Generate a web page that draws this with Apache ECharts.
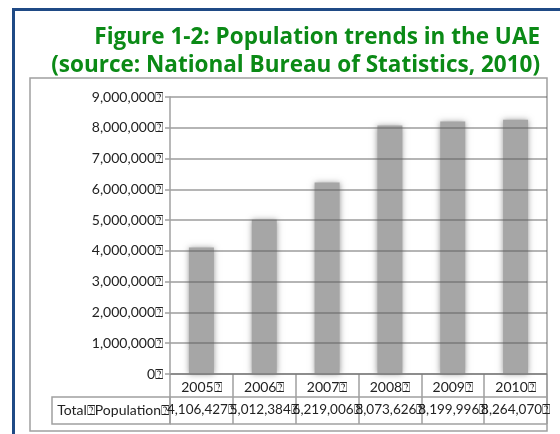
<!DOCTYPE html>
<html>
<head>
<meta charset="utf-8">
<script src="https://cdn.jsdelivr.net/npm/echarts@6/dist/echarts.min.js"></script>
<style>
html,body{margin:0;padding:0;background:#fff;}
#chart{width:560px;height:434px;}
</style>
</head>
<body>
<div id="chart"></div>
<script>
// ---- data ----
const titleLines = ['Figure 1-2: Population trends in the UAE', '(source: National Bureau of Statistics, 2010)'];
const years = ['2005', '2006', '2007', '2008', '2009', '2010'];
const population = [4106427, 5012384, 6219006, 8073626, 8199996, 8264070];
const seriesName = 'Total Population';
const yTicks = { min: 0, max: 9000000, interval: 1000000 };
const BOX = '\u2370';

const fmt = v => Number(v).toLocaleString('en-US');
const FONT = 'Lato';
const TFONT = 'Open Sans';
const GRID = '#a0a0a0';

const chart = echarts.init(document.getElementById('chart'), null, { renderer: 'canvas' });
chart.setOption({
  backgroundColor: '#fff',
  animation: false,
  title: [
    { text: titleLines[0], right: 15, top: 21,
      textStyle: { fontFamily: TFONT, fontWeight: 'bold', fontSize: 22.5, color: '#0b8a16' } },
    { text: titleLines[1], right: 15, top: 49,
      textStyle: { fontFamily: TFONT, fontWeight: 'bold', fontSize: 22.5, color: '#0b8a16' } }
  ],
  grid: { left: 170, right: 13, top: 97, bottom: 60, containLabel: false },
  xAxis: [
    {
      type: 'category', data: years, position: 'bottom',
      axisLine: { lineStyle: { color: GRID, width: 1.5 } },
      axisTick: { show: true, length: 50, interval: 0, lineStyle: { color: GRID, width: 1.5 } },
      axisLabel: { interval: 0, margin: 6, fontFamily: FONT, fontSize: 14, color: '#222',
        formatter: v => v + BOX }
    },
    {
      type: 'category', data: years, position: 'bottom', offset: 23,
      axisLine: { show: true, lineStyle: { color: GRID, width: 1.5 } },
      axisTick: { show: false },
      axisLabel: { interval: 0, margin: 6, fontFamily: FONT, fontSize: 13.5, color: '#222',
        formatter: (v, i) => fmt(population[i]) + BOX }
    }
  ],
  yAxis: {
    type: 'value', min: yTicks.min, max: yTicks.max, interval: yTicks.interval, z: 5,
    axisLine: { show: true, lineStyle: { color: GRID, width: 1.5 } },
    axisTick: { show: true, length: 5, lineStyle: { color: GRID, width: 1.5 } },
    splitLine: { show: true, lineStyle: { color: 'rgba(90,90,90,0.6)', width: 1.5 } },
    axisLabel: { margin: 7, fontFamily: FONT, fontSize: 14, color: '#222',
      formatter: v => fmt(v) + BOX }
  },
  series: [{
    name: seriesName, type: 'bar', data: population, barWidth: 25,
    itemStyle: { color: '#a6a6a6', shadowBlur: 6, shadowColor: 'rgba(140,140,140,0.9)' }
  }],
  graphic: [
    { type: 'rect', shape: { x: 13.5, y: 9.5, width: 600, height: 500 },
      style: { fill: null, stroke: '#1f4a85', lineWidth: 3 }, z: 10 },
    { type: 'rect', shape: { x: 30, y: 78, width: 517, height: 353 },
      style: { fill: null, stroke: GRID, lineWidth: 1.5 }, z: -1 },
    { type: 'rect', shape: { x: 52, y: 397, width: 118, height: 27 },
      style: { fill: null, stroke: GRID, lineWidth: 1.5 } },
    { type: 'line', shape: { x1: 170, y1: 424, x2: 547, y2: 424 },
      style: { stroke: GRID, lineWidth: 1.5 } },
    { type: 'text', x: 169, y: 410,
      style: { text: 'Total' + BOX + 'Population' + BOX, fontFamily: FONT, fontSize: 14, fill: '#222',
        textAlign: 'right', textVerticalAlign: 'middle' } }
  ]
});
</script>
</body>
</html>
